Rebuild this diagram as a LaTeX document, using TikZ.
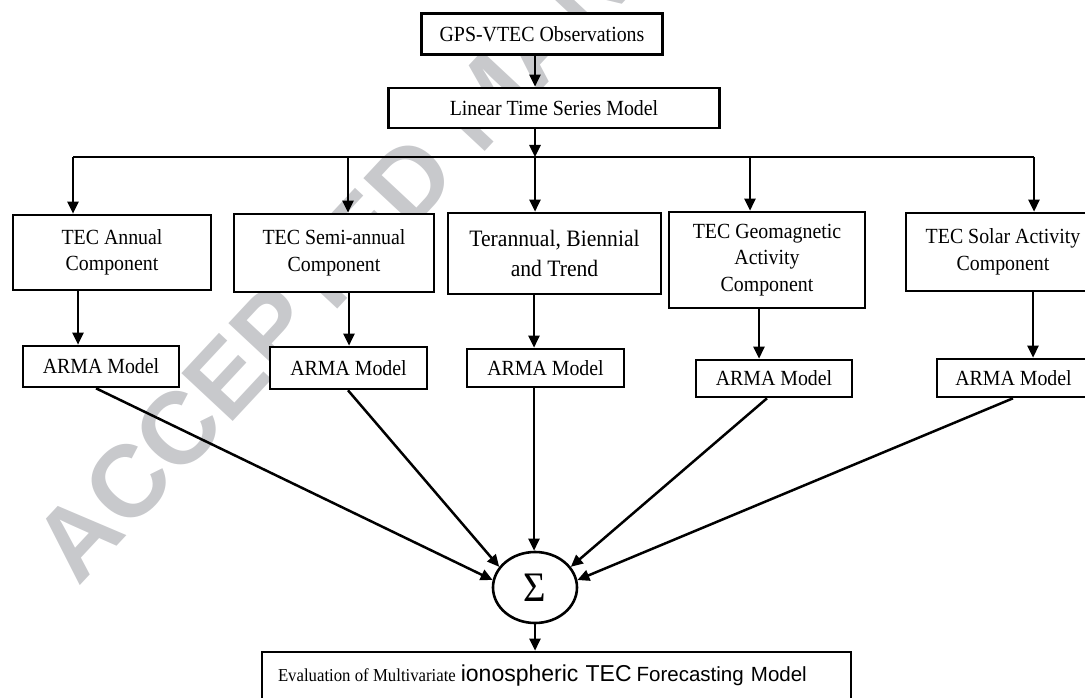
\documentclass[tikz,border=0pt]{standalone}
\usepackage{fontspec}
\setmainfont[FakeStretch=0.92]{Liberation Serif}
\newfontfamily\sansf{Liberation Sans}
\usetikzlibrary{arrows.meta,shapes.geometric,calc}
\definecolor{wmgray}{RGB}{200,201,204}
\begin{document}
\begin{tikzpicture}[x=1pt,y=-1pt,
  box/.style={draw,line width=2.6pt,fill=white,inner sep=0pt,align=center,
    font=\fontsize{21.6}{26.5}\selectfont},
  arr/.style={line width=2.5pt,-{Triangle[length=12pt,width=11pt]}},
  ln/.style={line width=2.5pt},
  wm/.style={text=wmgray,font=\sansf\bfseries\fontsize{102}{102}\selectfont,inner sep=0pt}]
\useasboundingbox (0,0) rectangle (1085,698);
\clip (0,0) rectangle (1085,698);
% watermark
\node[wm,rotate=47,anchor=base west] (water) at (78,588) {ACCEPTED MANUSCRIPT};
% boxes
\node[box,minimum width=241,minimum height=41] (gps) at (542,34) {GPS-VTEC Observations};
\node[box,minimum width=331,minimum height=40] (lin) at (554,108) {Linear Time Series Model};
\node[box,minimum width=198,minimum height=75] (ann) at (112,252.5) {TEC Annual\\Component};
\node[box,minimum width=200,minimum height=78] (semi) at (334,253) {TEC Semi-annual\\Component};
\node[box,minimum width=213,minimum height=81,font=\fontsize{23.5}{30}\selectfont] (ter) at (554.5,253.5) {Terannual, Biennial\\and Trend};
\node[box,minimum width=196,minimum height=96] (geo) at (767,260) {TEC Geomagnetic\\Activity\\Component};
\node[box,minimum width=194,minimum height=78] (sol) at (1003,252) {TEC Solar Activity\\Component};
\node[box,minimum width=156,minimum height=41] (a1) at (101,366.5) {ARMA Model};
\node[box,minimum width=157,minimum height=42] (a2) at (348.5,368) {ARMA Model};
\node[box,minimum width=157,minimum height=38] (a3) at (545.5,368) {ARMA Model};
\node[box,minimum width=156,minimum height=37] (a4) at (774,378.5) {ARMA Model};
\node[box,minimum width=153,minimum height=38] (a5) at (1013.5,378) {ARMA Model};
\node[box,ellipse,minimum width=84,minimum height=71,font=\fontsize{42}{42}\selectfont] (sum) at (535,587.5) {Σ};
\node[box,minimum height=48,text width=557,inner xsep=16,align=left] (eval) at (556.5,676)
  {{\fontsize{18.2}{20}\selectfont Evaluation\hspace{4.3pt}of\hspace{4.3pt}Multivariate}\hspace{5pt}{\sansf\fontsize{23}{26}\selectfont ionospheric TEC}\hspace{5pt}{\sansf\fontsize{20.5}{22}\selectfont Forecasting Model}};
% x positions
\coordinate (hub) at (535,157);
\coordinate (c1) at (73,157);
\coordinate (c2) at (348,157);
\coordinate (c4) at (750,157);
\coordinate (c5) at (1034,157);
\coordinate (d1) at (78,0);
\coordinate (d2) at (349,0);
\coordinate (d3) at (534,0);
\coordinate (d4) at (759,0);
\coordinate (d5) at (1033,0);
\coordinate (e1) at (96,0);
\coordinate (e2) at (348,0);
\coordinate (e4) at (767,0);
\coordinate (e5) at (1013,0);
% connectors
\draw[arr] (gps.south -| hub) -- (lin.north -| hub);
\draw[arr] (lin.south -| hub) -- (hub);
\draw[ln] (c1) -- (c5);
\draw[arr] (c1) -- (ann.north -| c1);
\draw[arr] (c2) -- (semi.north -| c2);
\draw[arr] (hub) -- (ter.north -| hub);
\draw[arr] (c4) -- (geo.north -| c4);
\draw[arr] (c5) -- (sol.north -| c5);
\draw[arr] (ann.south -| d1) -- (a1.north -| d1);
\draw[arr] (semi.south -| d2) -- (a2.north -| d2);
\draw[arr] (ter.south -| d3) -- (a3.north -| d3);
\draw[arr] (geo.south -| d4) -- (a4.north -| d4);
\draw[arr] (sol.south -| d5) -- (a5.north -| d5);
\draw[arr] (a1.south -| e1) -- (sum.170);
\draw[arr] (a2.south -| e2) -- (sum.150);
\draw[arr] (a3.south -| d3) -- (sum.north -| d3);
\draw[arr] (a4.south -| e4) -- (sum.30);
\draw[arr] (a5.south -| e5) -- (sum.10);
\draw[arr] (sum.south) -- (eval.north -| sum.south);
\end{tikzpicture}
\end{document}
